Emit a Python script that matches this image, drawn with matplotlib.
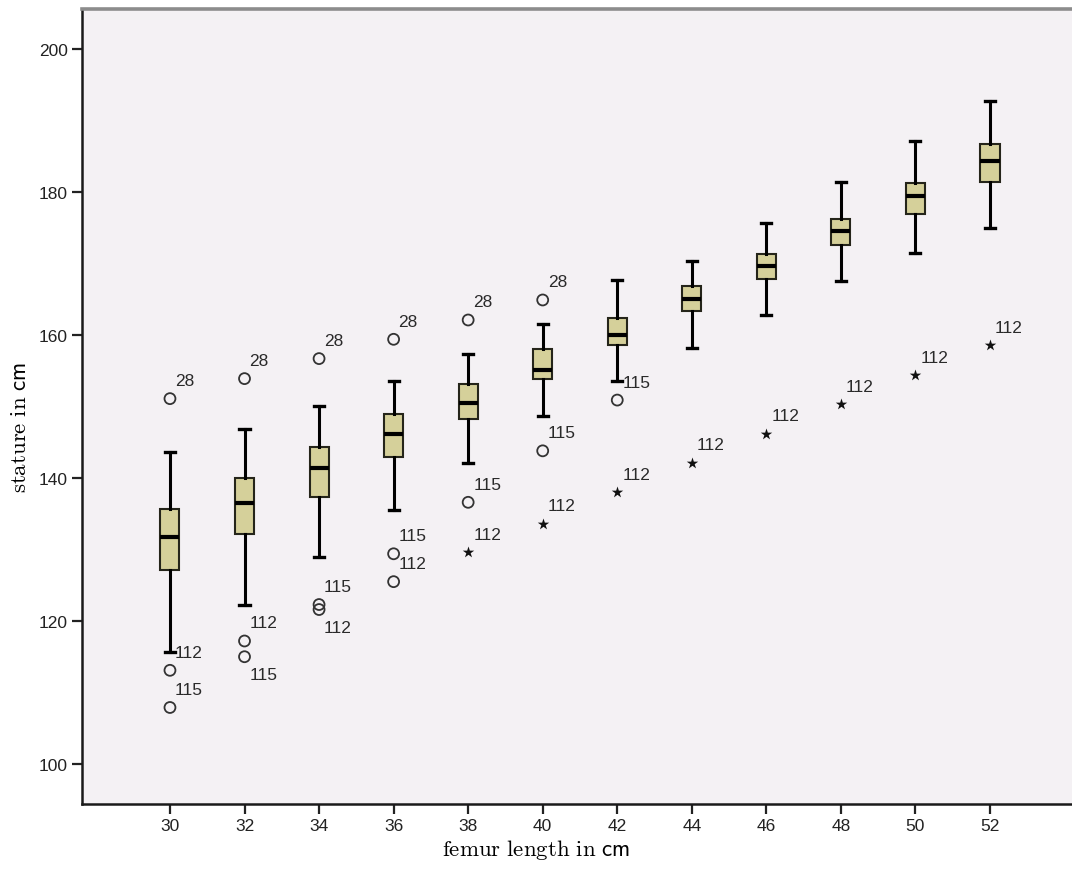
import matplotlib.pyplot as plt

plt.rcParams['font.family'] = ['Liberation Sans', 'DejaVu Sans']
plt.rcParams['mathtext.fontset'] = 'cm'

# === Box summary per femur length (stature in cm) ===
femur_cm = [30, 32, 34, 36, 38, 40, 42, 44, 46, 48, 50, 52]
whisker_low = [115.7, 122.2, 128.9, 135.5, 142.1, 148.7, 153.5, 158.2, 162.8, 167.5, 171.5, 175.0]
q1 = [127.2, 132.2, 137.4, 142.9, 148.3, 153.8, 158.6, 163.3, 167.9, 172.6, 176.9, 181.4]
median = [131.7, 136.5, 141.4, 146.1, 150.5, 155.1, 160.0, 165.0, 169.7, 174.6, 179.5, 184.3]
q3 = [135.7, 140.0, 144.4, 149.0, 153.2, 158.0, 162.4, 166.8, 171.3, 176.2, 181.2, 186.7]
whisker_high = [143.6, 146.9, 150.1, 153.5, 157.4, 161.6, 167.7, 170.4, 175.7, 181.4, 187.1, 192.8]

# === Outliers (circles) ===
out_femur = [30, 30, 30, 32, 32, 32, 34, 34, 34, 36, 36, 36, 38, 38, 40, 40, 42]
out_value = [151.1, 113.1, 107.9, 153.9, 117.2, 115.0, 156.7, 122.3, 121.6,
             159.4, 129.4, 125.5, 162.1, 136.6, 164.9, 143.8, 150.9]
out_case = ['28', '112', '115', '28', '112', '115', '28', '115', '112',
            '28', '115', '112', '28', '115', '28', '115', '115']

# === Extreme values (stars) ===
ext_femur = [38, 40, 42, 44, 46, 48, 50, 52]
ext_value = [129.6, 133.6, 138.0, 142.1, 146.2, 150.3, 154.4, 158.6]
ext_case = ['112'] * 8

# labels drawn below their point instead of above
labels_below = {(32, '115'), (34, '112')}

fig = plt.figure(figsize=(10.72, 8.78), dpi=100)
ax = fig.add_axes([82 / 1072, 73 / 878, 990 / 1072, 795 / 878])
ax.set_facecolor('#F4F1F4')

stats = [dict(med=m, q1=a, q3=b, whislo=lo, whishi=hi, fliers=[])
         for m, a, b, lo, hi in zip(median, q1, q3, whisker_low, whisker_high)]

ax.bxp(stats, positions=femur_cm, widths=0.51, capwidths=0.27,
       patch_artist=True, showfliers=False,
       boxprops=dict(facecolor='#D5D09A', edgecolor='#25251a', linewidth=1.5),
       medianprops=dict(color='black', linewidth=3.0, solid_capstyle='butt'),
       whiskerprops=dict(color='black', linewidth=2.2),
       capprops=dict(color='black', linewidth=2.4))

ax.scatter(out_femur, out_value, s=62, facecolors='none', edgecolors='#333333',
           linewidths=1.3, zorder=4)
ax.scatter(ext_femur, ext_value, s=75, marker='*', color='#111111',
           linewidths=0, zorder=4)

for x, y, c in list(zip(out_femur, out_value, out_case)) + list(zip(ext_femur, ext_value, ext_case)):
    dy = -18 if (x, c) in labels_below else 18
    ax.annotate(c, (x, y), xytext=(5, dy), textcoords='offset pixels',
                ha='left', va='center', fontsize=12.5, color='#2a2a2a')

ax.set_xlim(27.64, 54.2)
ax.set_ylim(94.4, 205.6)
ax.set_xticks(femur_cm)
ax.set_xticklabels([str(v) for v in femur_cm])
ax.set_yticks(range(100, 201, 20))
ax.tick_params(axis='both', length=7, width=1.6, labelsize=12.5, pad=3,
               colors='#222222')

for side in ['left', 'bottom']:
    ax.spines[side].set_linewidth(1.8)
    ax.spines[side].set_color('#1a1a1a')
ax.spines['top'].set_linewidth(2.6)
ax.spines['top'].set_color('#8c8c8c')
ax.spines['right'].set_visible(False)

fig.text(536 / 1072, 1 - 850 / 878, r'$\mathrm{femur\ length\ in}\ \mathsf{cm}$',
         ha='center', va='center', fontsize=16.5)
fig.text(20 / 1072, 1 - 427 / 878, r'$\mathrm{stature\ in}\ \mathsf{cm}$',
         ha='center', va='center', rotation=90, fontsize=16.5)

fig.savefig('out.png', dpi=100)
